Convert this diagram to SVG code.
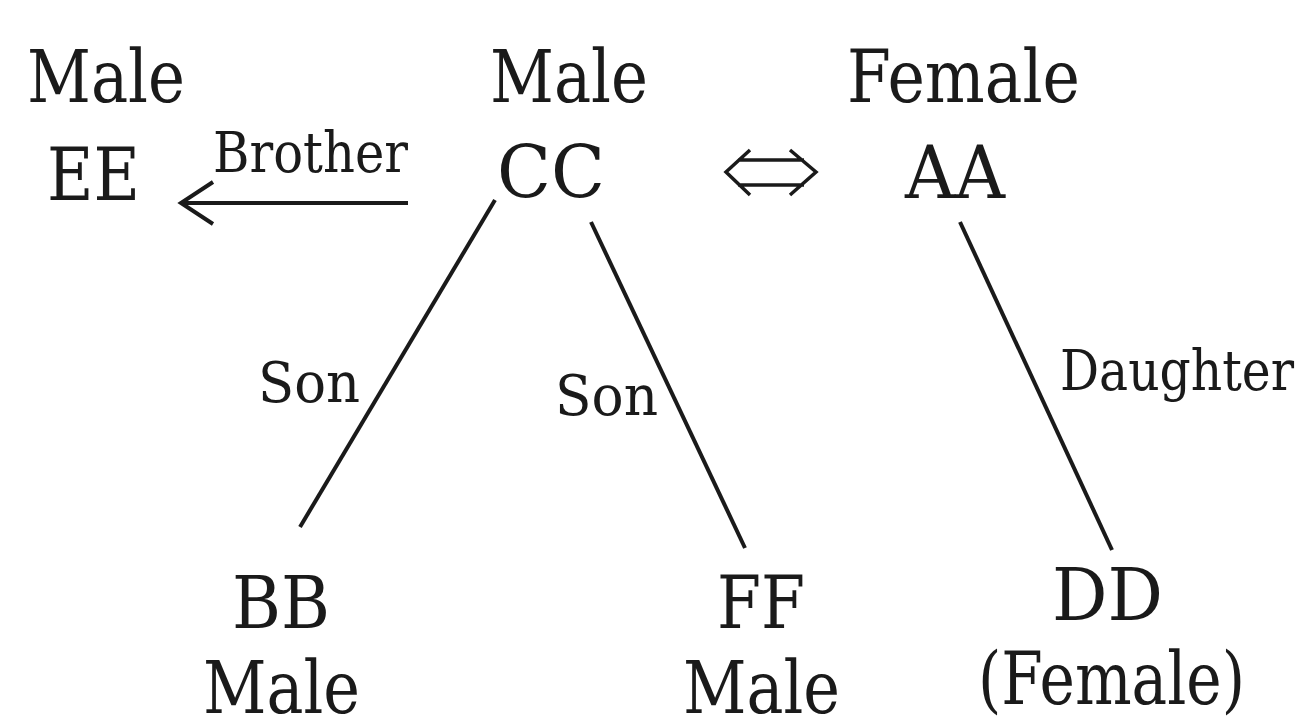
<svg xmlns="http://www.w3.org/2000/svg" width="1310" height="723" viewBox="0 0 1310 723">
<style>
.big{font-family:"DejaVu Serif","Liberation Serif",serif;font-size:72px;fill:#1a1a1a}
.small{font-family:"DejaVu Serif","Liberation Serif",serif;font-size:56px;fill:#1a1a1a}
.ln{stroke:#1a1a1a;stroke-width:4;fill:none;stroke-linecap:butt}
.dbl{stroke:#1a1a1a;stroke-width:3.5;fill:none;stroke-linejoin:miter}
</style>
<rect width="1310" height="723" fill="#ffffff"/>
<g id="EE">
<text class="big" x="27" y="102" textLength="158" lengthAdjust="spacingAndGlyphs">Male</text>
<text class="big" x="47" y="200" textLength="93" lengthAdjust="spacingAndGlyphs">EE</text>
</g>
<g id="CC">
<text class="big" x="490" y="102" textLength="158" lengthAdjust="spacingAndGlyphs">Male</text>
<text class="big" x="497" y="198" textLength="108" lengthAdjust="spacingAndGlyphs">CC</text>
</g>
<g id="AA">
<text class="big" x="847" y="102" textLength="233" lengthAdjust="spacingAndGlyphs">Female</text>
<text class="big" x="905" y="198" textLength="100" lengthAdjust="spacingAndGlyphs">AA</text>
</g>
<g id="BB">
<text class="big" x="232" y="628" textLength="98" lengthAdjust="spacingAndGlyphs">BB</text>
<text class="big" x="203" y="713" textLength="157" lengthAdjust="spacingAndGlyphs">Male</text>
</g>
<g id="FF">
<text class="big" x="717" y="628" textLength="88" lengthAdjust="spacingAndGlyphs">FF</text>
<text class="big" x="683" y="713" textLength="157" lengthAdjust="spacingAndGlyphs">Male</text>
</g>
<g id="DD">
<text class="big" x="1052" y="620" textLength="111" lengthAdjust="spacingAndGlyphs">DD</text>
<text class="big" x="978" y="704" textLength="267" lengthAdjust="spacingAndGlyphs">(Female)</text>
</g>
<g id="connectors">
<line class="ln" x1="408" y1="203" x2="181" y2="203"/>
<polyline class="ln" points="213,182 181,203 213,224"/>
<text class="small" x="213" y="172" textLength="195" lengthAdjust="spacingAndGlyphs">Brother</text>
<path class="dbl" d="M750,150 L726,172 L750,195 M790,150 L816,172 L790,195 M738,160 H804 M738,185 H804"/>
<line class="ln" x1="495" y1="200" x2="300" y2="527"/>
<text class="small" x="258" y="402" textLength="102" lengthAdjust="spacingAndGlyphs">Son</text>
<line class="ln" x1="591" y1="222" x2="745" y2="548"/>
<text class="small" x="555" y="415" textLength="103" lengthAdjust="spacingAndGlyphs">Son</text>
<line class="ln" x1="960" y1="222" x2="1112" y2="550"/>
<text class="small" x="1060" y="390" textLength="234" lengthAdjust="spacingAndGlyphs">Daughter</text>
</g>
</svg>
